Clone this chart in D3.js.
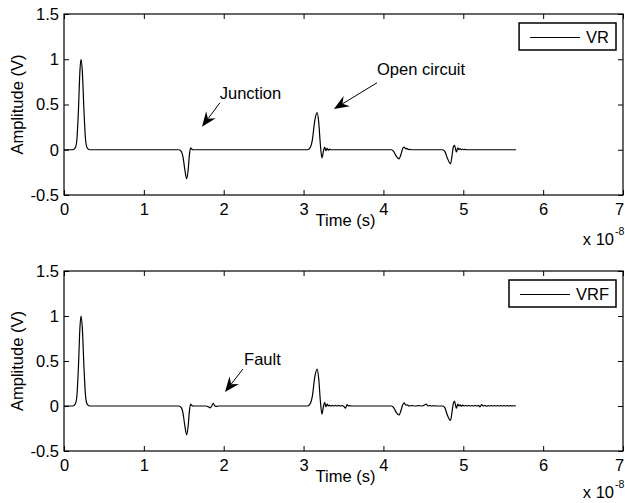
<!DOCTYPE html>
<html><head><meta charset="utf-8">
<script src="https://cdn.jsdelivr.net/npm/d3@7"></script>
<style>
body{margin:0;background:#fff}
text{font-family:"Liberation Sans",Arial,Helvetica,sans-serif;fill:#000}
</style>
</head><body>
<svg id="c" width="625" height="503"></svg>
<script>
// ---- data (time in units of 1e-8 s, amplitude in V) ----
const xTicks = [0,1,2,3,4,5,6,7];
const yTicks = [-0.5,0,0.5,1,1.5];
const yTickLabels = ["-0.5","0","0.5","1","1.5"];
const xLabel = "Time (s)";
const yLabel = "Amplitude (V)";
const seriesNames = ["VR","VRF"];

const vrPoints = [
 [0,0],[0.11,0],[0.14,0.02],[0.16,0.1],[0.18,0.42],[0.20,0.88],[0.213,1.0],[0.23,0.86],[0.25,0.43],[0.27,0.11],[0.29,0.02],[0.32,0],
 [1.44,0],[1.47,-0.02],[1.49,-0.08],[1.51,-0.2],[1.536,-0.32],[1.555,-0.22],[1.57,-0.06],[1.585,0.02],[1.60,0.005],[1.62,0],
 [3.05,0],[3.08,0.02],[3.11,0.11],[3.14,0.32],[3.17,0.41],[3.19,0.3],[3.21,0.06],[3.23,-0.09],[3.25,-0.01],[3.265,0.03],[3.28,-0.01],[3.295,0.015],[3.31,-0.005],[3.325,0.008],[3.34,0],[3.37,0],
 [4.10,0],[4.13,-0.02],[4.16,-0.07],[4.195,-0.1],[4.22,-0.05],[4.24,0.01],[4.26,0.03],[4.28,0.01],[4.295,0.015],[4.31,0.002],[4.33,0.005],[4.35,0],
 [4.74,0],[4.77,-0.02],[4.80,-0.09],[4.84,-0.155],[4.86,-0.06],[4.875,0.03],[4.89,0.05],[4.905,0.0],[4.915,-0.025],[4.93,0.02],[4.945,0.0],[4.96,0.012],[4.975,0.0],[4.99,0.008],[5.005,0],[5.02,0.004],[5.04,0],
 [5.66,0]
];

const vrfPoints = [
 [0,0],[0.11,0],[0.14,0.02],[0.16,0.1],[0.18,0.42],[0.20,0.88],[0.213,1.0],[0.23,0.86],[0.25,0.43],[0.27,0.11],[0.29,0.02],[0.32,0],
 [1.44,0],[1.47,-0.02],[1.49,-0.08],[1.51,-0.2],[1.536,-0.32],[1.555,-0.22],[1.57,-0.06],[1.585,0.02],[1.60,0.005],[1.62,0],
 [1.78,0],[1.81,-0.01],[1.83,-0.02],[1.85,0.0],[1.87,0.03],[1.89,0.0],[1.91,-0.005],[1.93,0],
 [3.05,0],[3.08,0.02],[3.11,0.11],[3.14,0.32],[3.17,0.41],[3.19,0.3],[3.21,0.06],[3.23,-0.09],[3.25,0.0],[3.265,0.04],[3.28,-0.01],[3.295,0.02],[3.31,0.0],[3.325,0.01],[3.34,0.0],[3.36,0.008],[3.38,0.0],[3.40,0.006],[3.42,0.0],[3.44,0.008],[3.46,0.0],[3.48,0.004],[3.50,0.0],[3.525,-0.025],[3.545,0.015],[3.565,0.0],[3.58,0.004],[3.60,0],
 [4.10,0],[4.13,-0.02],[4.16,-0.07],[4.195,-0.1],[4.22,-0.05],[4.24,0.01],[4.26,0.035],[4.28,0.01],[4.30,0.012],[4.32,0.0],[4.35,0.005],[4.40,0.0],[4.44,0.005],[4.48,0.0],[4.51,0.01],[4.535,0.02],[4.56,0.0],[4.58,0.008],[4.60,0.0],[4.63,0.003],[4.66,0],
 [4.74,0],[4.77,-0.02],[4.80,-0.1],[4.84,-0.16],[4.86,-0.06],[4.875,0.03],[4.89,0.055],[4.905,0.0],[4.915,-0.025],[4.93,0.02],[4.945,0.0],[4.96,0.012],[4.975,-0.003],[4.99,0.01],[5.01,0.0],[5.03,0.008],[5.05,0.0],[5.07,0.006],[5.09,0.0],[5.11,0.005],[5.13,0.0],[5.15,0.006],[5.17,0.0],[5.19,0.006],[5.21,-0.01],[5.23,0.015],[5.25,0.0],[5.27,0.006],[5.29,-0.003],[5.31,0.005],[5.33,0.0],[5.35,0.005],[5.37,0.0],[5.39,0.005],[5.41,0.0],[5.43,0.005],[5.45,0],[5.47,0.005],[5.49,0],[5.51,0.005],[5.53,0],[5.55,0.005],[5.57,0],[5.59,0.004],[5.61,0],[5.63,0.003],[5.66,0]
];

// annotations: text position and arrow (tail -> tip), in data units
const topNotes = [
 {label:"Junction", tx:1.95, ty:0.56, x0:1.953, y0:0.52, x1:1.728, y1:0.254},
 {label:"Open circuit", tx:3.92, ty:0.83, x0:3.92, y0:0.74, x1:3.38, y1:0.45}
];
const bottomNotes = [
 {label:"Fault", tx:2.255, ty:0.455, x0:2.24, y0:0.41, x1:2.016, y1:0.155}
];

// ---- drawing ----
const svg = d3.select("#c");
const FS = 16.5;
const left = 64, right = 623;
const panels = [
 {top:14, bottom:195, points:vrPoints, name:seriesNames[0], notes:topNotes, expOff:50},
 {top:271, bottom:451, points:vrfPoints, name:seriesNames[1], notes:bottomNotes, expOff:47}
];

const x = d3.scaleLinear().domain([0,7]).range([left,right]);

panels.forEach(p => {
  const y = d3.scaleLinear().domain([-0.5,1.5]).range([p.bottom,p.top]);
  const g = svg.append("g");

  // box
  g.append("rect").attr("x",left).attr("y",p.top).attr("width",right-left).attr("height",p.bottom-p.top)
    .attr("fill","none").attr("stroke","#000").attr("stroke-width",1.2);

  // axes with inward ticks
  const ax = [
    g.append("g").attr("transform",`translate(0,${p.bottom})`).call(d3.axisBottom(x).tickValues(xTicks).tickFormat(d3.format("d")).tickSizeInner(-5).tickSizeOuter(0).tickPadding(8)),
    g.append("g").attr("transform",`translate(0,${p.top})`).call(d3.axisTop(x).tickValues(xTicks).tickFormat("").tickSizeInner(-5).tickSizeOuter(0)),
    g.append("g").attr("transform",`translate(${left},0)`).call(d3.axisLeft(y).tickValues(yTicks).tickFormat((d,i)=>yTickLabels[i]).tickSizeInner(-5).tickSizeOuter(0).tickPadding(5)),
    g.append("g").attr("transform",`translate(${right},0)`).call(d3.axisRight(y).tickValues(yTicks).tickFormat("").tickSizeInner(-5).tickSizeOuter(0))
  ];
  ax.forEach(a => {
    a.select(".domain").remove();
    a.selectAll("line").attr("stroke","#000");
    a.selectAll("text").attr("font-size",FS).attr("font-family",null).attr("fill","#000");
  });
  // keep the last x tick label inside the page
  ax[0].selectAll(".tick text").filter(d => d === xTicks[xTicks.length-1]).attr("dx",-4);

  // signal
  const line = d3.line().x(d=>x(d[0])).y(d=>y(d[1])).curve(d3.curveMonotoneX);
  g.append("path").datum(p.points).attr("d",line).attr("fill","none").attr("stroke","#000").attr("stroke-width",1.2);

  // labels
  g.append("text").attr("x",(left+right)/2+2).attr("y",p.bottom+31).attr("text-anchor","middle").attr("font-size",FS).text(xLabel);
  g.append("text").attr("transform",`translate(23,${(p.top+p.bottom)/2}) rotate(-90)`).attr("text-anchor","middle").attr("font-size",FS).text(yLabel);
  g.append("text").attr("x",614).attr("y",p.bottom+p.expOff).attr("text-anchor","end").attr("font-size",FS).text("x 10");
  g.append("text").attr("x",615).attr("y",p.bottom+p.expOff-10).attr("text-anchor","start").attr("font-size",10.5).text("-8");

  // legend
  const legRect = g.append("rect");
  const lt = g.append("text").attr("font-size",FS).attr("text-anchor","end").attr("x",right-14).attr("y",p.top+23).attr("dy","0.35em").text(p.name);
  const tw = lt.node().getComputedTextLength();
  const lw = 11+50+6+tw+7;
  const lx = right-7-lw;
  legRect.attr("x",lx).attr("y",p.top+9).attr("width",lw).attr("height",27)
    .attr("fill","#fff").attr("stroke","#000").attr("stroke-width",1.5);
  g.append("line").attr("x1",lx+11).attr("x2",lx+61).attr("y1",p.top+23.5).attr("y2",p.top+23.5).attr("stroke","#000").attr("stroke-width",1);

  // annotations
  p.notes.forEach(n => {
    g.append("text").attr("x",x(n.tx)).attr("y",y(n.ty)).attr("font-size",FS).text(n.label);
    const X0=x(n.x0), Y0=y(n.y0), X1=x(n.x1), Y1=y(n.y1);
    const dx=X1-X0, dy=Y1-Y0, len=Math.hypot(dx,dy);
    const ux=dx/len, uy=dy/len, nx=-uy, ny=ux;
    const L=15, W=6, notch=5;
    g.append("line").attr("x1",X0).attr("y1",Y0).attr("x2",X1-(L-notch)*ux).attr("y2",Y1-(L-notch)*uy).attr("stroke","#000").attr("stroke-width",1);
    const pts=[[X1,Y1],[X1-L*ux+W*nx,Y1-L*uy+W*ny],[X1-(L-notch)*ux,Y1-(L-notch)*uy],[X1-L*ux-W*nx,Y1-L*uy-W*ny]];
    g.append("polygon").attr("points",pts.map(q=>q.join(",")).join(" ")).attr("fill","#000");
  });
});
</script>
</body></html>
